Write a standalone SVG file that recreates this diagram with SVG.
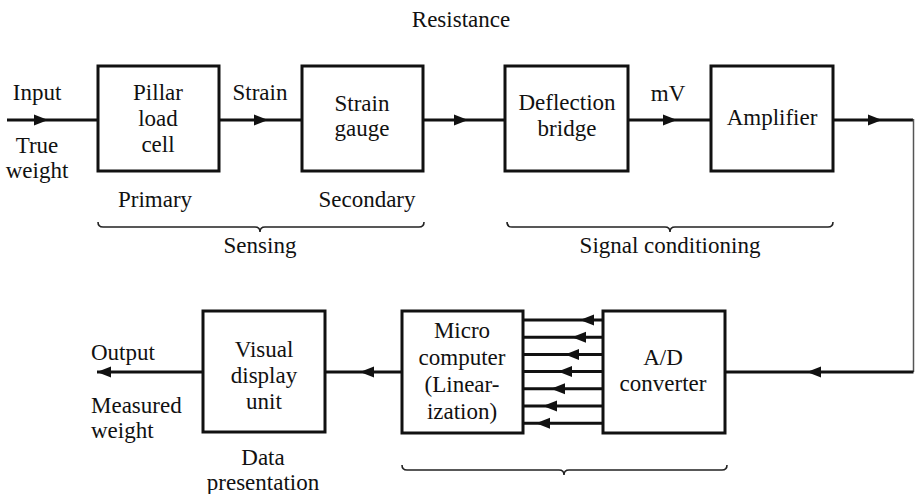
<svg xmlns="http://www.w3.org/2000/svg" width="915" height="494" viewBox="0 0 915 494" font-family="Liberation Serif, Times New Roman, serif" font-size="23">
<style>
text{fill:#111;text-anchor:middle}
.l{text-anchor:start}
.box{fill:#fff;stroke:#111;stroke-width:3}
.w{fill:none;stroke:#111;stroke-width:3}
.thin{fill:none;stroke:#555;stroke-width:1.5}
.br{fill:none;stroke:#222;stroke-width:1.6}
</style>
<defs>
<path id="ah" d="M0,0 L-14,-5.5 L-14,5.5 Z" fill="#111"/>
</defs>
<rect width="915" height="494" fill="#fff"/>
<text x="461" y="27">Resistance</text>

<g id="connectors">
<path class="w" d="M7,120 H98"/><use href="#ah" x="48" y="120"/>
<path class="w" d="M219,120 H302"/><use href="#ah" x="268" y="120"/>
<path class="w" d="M423,120 H505"/><use href="#ah" x="468" y="120"/>
<path class="w" d="M628,120 H711"/><use href="#ah" x="677" y="120"/>
<path class="w" d="M833,120 H913"/><use href="#ah" x="882" y="120"/>
<path class="thin" d="M913.5,119 V372"/>
<path class="w" d="M913.5,372 H725"/><use href="#ah" transform="translate(807,372) rotate(180)"/>
<path class="w" d="M603,320 H523 M603,337.2 H523 M603,354.4 H523 M603,371.6 H523 M603,388.8 H523 M603,406 H523 M603,423.2 H523"/>
<use href="#ah" transform="translate(580,320) rotate(180)"/>
<use href="#ah" transform="translate(572,337.2) rotate(180)"/>
<use href="#ah" transform="translate(565,354.4) rotate(180)"/>
<use href="#ah" transform="translate(558,371.6) rotate(180)"/>
<use href="#ah" transform="translate(551,388.8) rotate(180)"/>
<use href="#ah" transform="translate(543,406) rotate(180)"/>
<use href="#ah" transform="translate(536,423.2) rotate(180)"/>
<path class="w" d="M402,372 H325"/><use href="#ah" transform="translate(360,372) rotate(180)"/>
<path class="w" d="M203,372 H97"/><use href="#ah" transform="translate(97,372) rotate(180)"/>
</g>

<g id="labels">
<text x="37" y="100">Input</text>
<text x="37" y="153">True</text>
<text x="37" y="178">weight</text>
<text x="260" y="100">Strain</text>
<text x="668" y="101">mV</text>
<text class="l" x="91" y="360">Output</text>
<text class="l" x="91" y="413">Measured</text>
<text class="l" x="91" y="438">weight</text>
<text x="155" y="207">Primary</text>
<text x="367" y="207">Secondary</text>
</g>

<g id="pillar">
<rect class="box" x="98" y="66" width="121" height="105"/>
<text x="158" y="100">Pillar</text>
<text x="158" y="126">load</text>
<text x="158" y="152">cell</text>
</g>
<g id="straingauge">
<rect class="box" x="302" y="66" width="121" height="105"/>
<text x="362" y="111">Strain</text>
<text x="362" y="136">gauge</text>
</g>
<g id="deflection">
<rect class="box" x="505" y="66" width="123" height="105"/>
<text x="567" y="110">Deflection</text>
<text x="567" y="136">bridge</text>
</g>
<g id="amplifier">
<rect class="box" x="711" y="66" width="122" height="105"/>
<text x="772" y="125">Amplifier</text>
</g>
<g id="ad">
<rect class="box" x="603" y="311" width="122" height="122"/>
<text x="663" y="365">A/D</text>
<text x="663" y="391">converter</text>
</g>
<g id="micro">
<rect class="box" x="402" y="311" width="121" height="122"/>
<text x="462" y="338">Micro</text>
<text x="462" y="365">computer</text>
<text x="462" y="392">(Linear-</text>
<text x="462" y="419">ization)</text>
</g>
<g id="visual">
<rect class="box" x="203" y="311" width="122" height="121"/>
<text x="264" y="357">Visual</text>
<text x="264" y="383">display</text>
<text x="264" y="409">unit</text>
</g>

<g id="braces">
<path class="br" d="M98,222 q0,5 5,5 H255 q5,0 5,5 q0,-5 5,-5 H419 q5,0 5,-5"/>
<text x="260" y="253">Sensing</text>
<path class="br" d="M507,222 q0,5 5,5 H665 q5,0 5,5 q0,-5 5,-5 H828 q5,0 5,-5"/>
<text x="670" y="253">Signal conditioning</text>
<path class="br" d="M402,465 q0,5 5,5 H559 q5,0 5,5 q0,-5 5,-5 H722 q5,0 5,-5"/>
<text x="263" y="465">Data</text>
<text x="263" y="490">presentation</text>
</g>
</svg>
